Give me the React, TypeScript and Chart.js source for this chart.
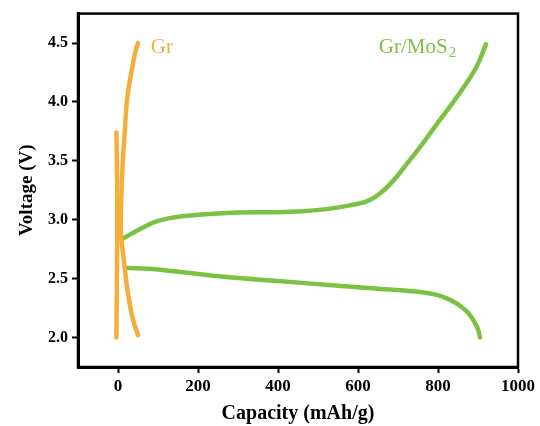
import React, { useEffect, useRef } from "react";
import { Chart, registerables } from "chart.js";

Chart.register(...registerables);

// Gr electrode: short vertical segment near zero capacity, then the V-shaped curve
const grSegACap = [-4, -3, -2, -2, -3, -4];
const grSegAV = [2.0, 2.4, 2.8, 3.2, 3.55, 3.74];

const grSegBCap = [50, 42, 34, 23, 15, 8, 7, 9, 12, 17, 22, 28, 35, 43, 50];
const grSegBV = [2.02, 2.1, 2.2, 2.42, 2.65, 2.85, 3.0, 3.25, 3.5, 3.75, 4.0, 4.15, 4.28, 4.42, 4.5];

// Gr/MoS2 electrode: charge (upper) and discharge (lower) curves
const mosChargeCap = [12, 60, 100, 160, 285, 450, 577, 650, 735, 803, 853, 895, 920];
const mosChargeV = [2.84, 2.93, 2.99, 3.03, 3.06, 3.07, 3.12, 3.21, 3.53, 3.84, 4.07, 4.29, 4.49];

const mosDischargeCap = [22, 77, 200, 285, 400, 550, 650, 760, 800, 830, 855, 875, 890, 900, 905];
const mosDischargeV = [2.59, 2.585, 2.54, 2.51, 2.48, 2.44, 2.415, 2.385, 2.36, 2.32, 2.27, 2.21, 2.14, 2.07, 2.0];

const xTicks = [0, 200, 400, 600, 800, 1000];
const yTicks = [2.0, 2.5, 3.0, 3.5, 4.0, 4.5];

const ORANGE = "#F6AE3A";
const GREEN = "#7CC242";
const SERIF = "'Liberation Serif', 'Times New Roman', serif";

const toPoints = (xs: number[], ys: number[]) => xs.map((x, i) => ({ x, y: ys[i] }));

const lineStyle = (color: string) => ({
  borderColor: color,
  backgroundColor: color,
  borderWidth: 4.5,
  pointRadius: 0,
  tension: 0.4,
  fill: false,
  borderCapStyle: "round" as const,
  borderJoinStyle: "round" as const,
});

// Frame around the plot area plus the in-plot series names
const framePlugin = {
  id: "frameAndNames",
  afterDraw(chart: any) {
    const { ctx, chartArea, scales } = chart;
    ctx.save();
    ctx.strokeStyle = "#000";
    ctx.lineWidth = 2.5;
    ctx.strokeRect(chartArea.left, chartArea.top, chartArea.right - chartArea.left, chartArea.bottom - chartArea.top);

    ctx.textBaseline = "alphabetic";
    ctx.textAlign = "left";
    ctx.font = `21px ${SERIF}`;

    ctx.fillStyle = ORANGE;
    ctx.fillText("Gr", scales.x.getPixelForValue(82), scales.y.getPixelForValue(4.415));

    ctx.fillStyle = GREEN;
    const gx = scales.x.getPixelForValue(652);
    const gy = scales.y.getPixelForValue(4.415);
    ctx.fillText("Gr/MoS", gx, gy);
    const w = ctx.measureText("Gr/MoS").width;
    ctx.font = `15px ${SERIF}`;
    ctx.fillText("2", gx + w + 1, gy + 4);
    ctx.restore();
  },
};

export default function App() {
  const ref = useRef<HTMLCanvasElement | null>(null);

  useEffect(() => {
    if (!ref.current) return;
    const chart = new Chart(ref.current, {
      type: "line",
      data: {
        datasets: [
          { label: "Gr", data: toPoints(grSegACap, grSegAV), ...lineStyle(ORANGE) },
          { label: "Gr", data: toPoints(grSegBCap, grSegBV), ...lineStyle(ORANGE) },
          { label: "Gr/MoS2", data: toPoints(mosChargeCap, mosChargeV), ...lineStyle(GREEN) },
          { label: "Gr/MoS2", data: toPoints(mosDischargeCap, mosDischargeV), ...lineStyle(GREEN) },
        ],
      },
      options: {
        responsive: false,
        animation: false,
        layout: { padding: { top: 13, right: 22, left: 0, bottom: 0 } },
        plugins: { legend: { display: false }, tooltip: { enabled: false } },
        scales: {
          x: {
            type: "linear",
            min: -100,
            max: 1000,
            afterBuildTicks: (s: any) => {
              s.ticks = xTicks.map((v) => ({ value: v }));
            },
            afterFit: (s: any) => {
              s.height = 59;
            },
            grid: { drawOnChartArea: false, drawTicks: true, tickLength: 6, tickWidth: 2, color: "#000" },
            border: { display: true, width: 3, color: "#000" },
            ticks: {
              font: { family: SERIF, size: 17, weight: "bold" },
              color: "#000",
              padding: 3,
              maxRotation: 0,
              callback: (v: any) => String(v),
            },
            title: {
              display: true,
              text: "Capacity (mAh/g)",
              font: { family: SERIF, size: 20, weight: "bold" },
              color: "#000",
              padding: { top: 0, bottom: 0 },
            },
          },
          y: {
            type: "linear",
            min: 1.75,
            max: 4.75,
            afterBuildTicks: (s: any) => {
              s.ticks = yTicks.map((v) => ({ value: v }));
            },
            afterFit: (s: any) => {
              s.width = 78;
            },
            grid: { drawOnChartArea: false, drawTicks: true, tickLength: 6, tickWidth: 2, color: "#000" },
            border: { display: true, width: 3, color: "#000" },
            ticks: {
              font: { family: SERIF, size: 16, weight: "bold" },
              color: "#000",
              padding: 4,
              callback: (v: any) => Number(v).toFixed(1),
            },
            title: {
              display: true,
              text: "Voltage (V)",
              font: { family: SERIF, size: 19, weight: "bold" },
              color: "#000",
              padding: { top: 16, bottom: 0 },
            },
          },
        },
      },
      plugins: [framePlugin],
    });
    return () => chart.destroy();
  }, []);

  return (
    <canvas
      ref={ref}
      width={540}
      height={426}
      style={{ position: "absolute", left: 0, top: 0, display: "block" }}
    />
  );
}
